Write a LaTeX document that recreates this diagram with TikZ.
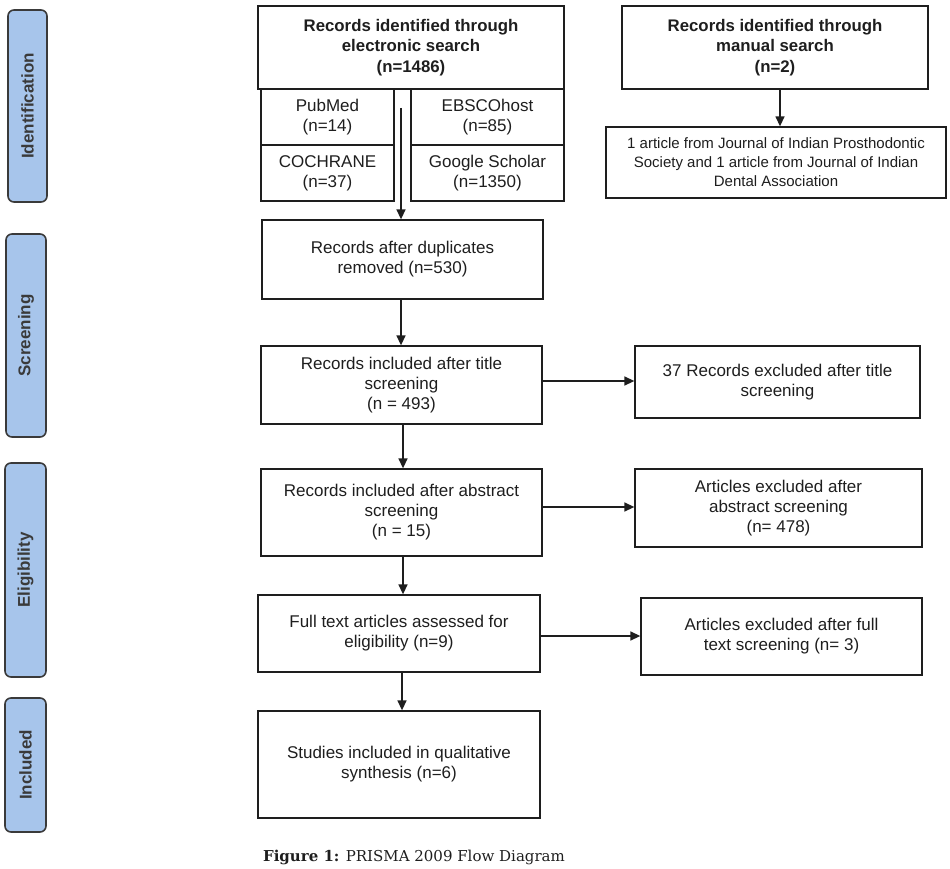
\documentclass[tikz,border=0pt]{standalone}
\usepackage{fontspec}
\setmainfont{Liberation Sans}
\newfontfamily\capfont{DejaVu Serif}
\usetikzlibrary{arrows.meta}
\definecolor{barblue}{HTML}{A7C5EB}
\definecolor{bardark}{HTML}{3A3A3A}
\definecolor{ink}{HTML}{1E1E1E}
\begin{document}
\begin{tikzpicture}[x=1pt,y=-1pt,
  box/.style={draw=ink, line width=1.3pt, align=center, inner sep=2pt, text=ink,
    font=\fontsize{17}{20}\selectfont},
  hbox/.style={box, font=\bfseries\fontsize{16.8}{20.5}\selectfont},
  sbox/.style={box, font=\fontsize{15}{19}\selectfont},
  bar/.style={draw=bardark, fill=barblue, line width=1.6pt, rounded corners=6pt,
    rotate=90, text=bardark, font=\bfseries\fontsize{17}{20}\selectfont},
  arr/.style={draw=ink, line width=1.4pt, -{Triangle[length=10pt,width=9pt]}}]
\useasboundingbox (0,0) rectangle (950,869);
% side bars
\node[bar, minimum width=192pt, minimum height=39pt] (bid) at (27.5,106) {Identification};
\node[bar, minimum width=203pt, minimum height=40pt] (bscr) at (26,335.5) {Screening};
\node[bar, minimum width=214pt, minimum height=41pt] (belig) at (25.5,570) {Eligibility};
\node[bar, minimum width=134pt, minimum height=41pt] (binc) at (25.5,765) {Included};
% identification
\node[hbox, minimum width=306pt, minimum height=83pt] (elec) at (411,47.5) {Records identified through\\electronic search\\(n=1486)};
\node[box, minimum width=133pt, minimum height=56pt] (pub) at (327.5,117) {PubMed\\(n=14)};
\node[box, minimum width=133pt, minimum height=56pt] (coch) at (327.5,173) {COCHRANE\\(n=37)};
\node[box, minimum width=153pt, minimum height=56pt] (ebsco) at (487.5,117) {EBSCOhost\\(n=85)};
\node[box, minimum width=153pt, minimum height=56pt] (goog) at (487.5,173) {Google Scholar\\(n=1350)};
\node[hbox, minimum width=306pt, minimum height=83pt] (man) at (775,47.5) {Records identified through\\manual search\\(n=2)};
\node[sbox, minimum width=340pt, minimum height=71pt] (jour) at (776,162.5) {1 article from Journal of Indian Prosthodontic\\Society and 1 article from Journal of Indian\\Dental Association};
% screening
\node[box, minimum width=281pt, minimum height=79pt] (dup) at (402.5,259.5) {Records after duplicates\\removed (n=530)};
\node[box, minimum width=281pt, minimum height=78pt] (tit) at (401.5,385) {Records included after title\\screening\\(n = 493)};
\node[box, minimum width=285pt, minimum height=72pt] (xtit) at (777.5,382) {37 Records excluded after title\\screening};
% eligibility
\node[box, minimum width=281pt, minimum height=87pt] (abs) at (401.5,512.5) {Records included after abstract\\screening\\(n = 15)};
\node[box, minimum width=287pt, minimum height=78pt] (xabs) at (778.5,508) {Articles excluded after\\abstract screening\\(n= 478)};
\node[box, minimum width=282pt, minimum height=77pt] (full) at (399,633.5) {Full text articles assessed for\\eligibility (n=9)};
\node[box, minimum width=281pt, minimum height=77pt] (xfull) at (781.5,636.5) {Articles excluded after full\\text screening (n= 3)};
% included
\node[box, minimum width=282pt, minimum height=107pt] (inc) at (399,764.5) {Studies included in qualitative\\synthesis (n=6)};
% caption
\node[font=\capfont\fontsize{15}{17}\selectfont, text=ink] (cap) at (414,857) {\textbf{Figure 1:} PRISMA 2009 Flow Diagram};
% connectors
\coordinate (s1) at (401,108);
\draw[arr] (s1) -- (s1 |- dup.north);
\coordinate (s2) at (780,89);
\draw[arr] (s2 |- man.south) -- (s2 |- jour.north);
\draw[arr] (401,0 |- dup.south) -- (401,0 |- tit.north);
\draw[arr] (tit.east |- 0,381) -- (xtit.west |- 0,381);
\draw[arr] (403,0 |- tit.south) -- (403,0 |- abs.north);
\draw[arr] (abs.east |- 0,507) -- (xabs.west |- 0,507);
\draw[arr] (403,0 |- abs.south) -- (403,0 |- full.north);
\draw[arr] (full.east |- 0,636) -- (xfull.west |- 0,636);
\draw[arr] (402,0 |- full.south) -- (402,0 |- inc.north);
\end{tikzpicture}
\end{document}
